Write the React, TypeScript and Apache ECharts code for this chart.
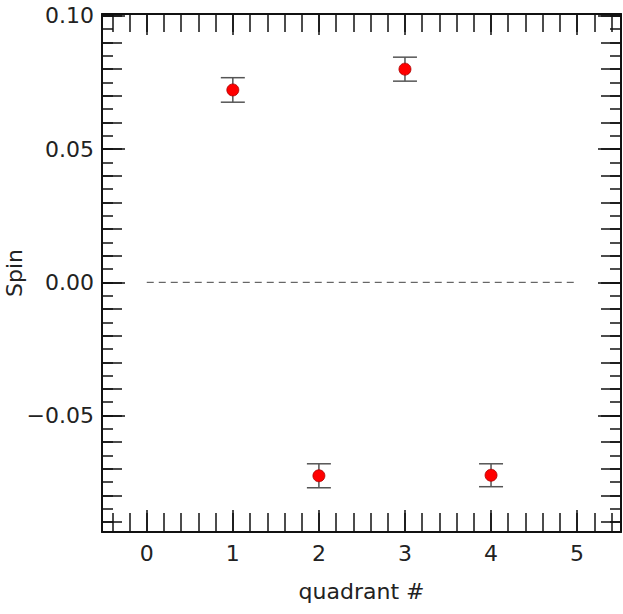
import React, { useEffect, useRef } from "react";
import * as echarts from "echarts";

// ---- data ----
const quadrants = [1, 2, 3, 4];
const spinValues = [0.0722, -0.0726, 0.08, -0.0724];
const spinErrors = [0.0046, 0.0045, 0.0045, 0.0043];
const zeroLineX = [0, 5];
const zeroLineY = [0, 0];

// axis extents and tick steps
const xRange = [-0.52, 5.51];
const yRange = [-0.0937, 0.1007];
const xMajorStep = 1;
const xMinorStep = 0.2;
const yLabelStep = 0.05;
const yMidStep = 0.01;
const yMinorStep = 0.005;

const FONT = "DejaVu Sans";

const isMultiple = (v: number, step: number) =>
  Math.abs(v / step - Math.round(v / step)) < 1e-6;

const fmtY = (v: number) => {
  if (!isMultiple(v, yLabelStep)) return "";
  const s = Math.abs(v).toFixed(2);
  return v < -1e-9 ? "\u2212" + s : s;
};
const fmtX = (v: number) => (isMultiple(v, xMajorStep) ? String(Math.round(v)) : "");

export default function App() {
  const ref = useRef<HTMLDivElement>(null);
  useEffect(() => {
    if (!ref.current) return;
    const chart = echarts.init(ref.current, null, { renderer: "svg" });

    const xSpan = xRange[1] - xRange[0];
    const ySpan = yRange[1] - yRange[0];

    const xAxisBase = (step: number, pos: "top" | "bottom", len: number, main: boolean, line: boolean) => ({
      type: "value",
      position: pos,
      min: xRange[0],
      max: xRange[1],
      splitNumber: Math.round(xSpan / step),
      minInterval: step,
      maxInterval: step,
      splitLine: { show: false },
      axisLine: { show: line, onZero: false, lineStyle: { color: "#111", width: 2 } },
      axisTick: { show: true, inside: true, length: len, lineStyle: { color: "#111", width: 1.5 } },
      axisLabel: main
        ? { show: true, formatter: fmtX, fontFamily: FONT, fontSize: 22, color: "#222", margin: 10 }
        : { show: false },
      name: main ? "quadrant #" : "",
      nameLocation: "middle",
      nameGap: 48,
      nameMoveOverlap: false,
      nameTextStyle: { fontFamily: FONT, fontSize: 22, color: "#222" },
    });

    const yAxisBase = (step: number, pos: "left" | "right", len: number, main: boolean, line: boolean) => ({
      type: "value",
      position: pos,
      min: yRange[0],
      max: yRange[1],
      splitNumber: Math.round(ySpan / step),
      minInterval: step,
      maxInterval: step,
      splitLine: { show: false },
      axisLine: { show: line, onZero: false, lineStyle: { color: "#111", width: 2 } },
      axisTick: { show: true, inside: true, length: len, lineStyle: { color: "#111", width: 1.5 } },
      axisLabel: main
        ? { show: true, formatter: fmtY, fontFamily: FONT, fontSize: 22, color: "#222", margin: 8 }
        : { show: false },
      name: main ? "Spin" : "",
      nameLocation: "middle",
      nameGap: 77,
      nameMoveOverlap: false,
      nameTextStyle: { fontFamily: FONT, fontSize: 22, color: "#222" },
    });

    const points = quadrants.map((q, i) => [q, spinValues[i], spinErrors[i]]);

    chart.setOption({
      animation: false,
      backgroundColor: "#fff",
      grid: { left: 102, right: 2, top: 14, bottom: 82, containLabel: false, outerBoundsMode: "none" },
      xAxis: [
        xAxisBase(xMajorStep, "bottom", 22, true, true),
        xAxisBase(xMinorStep, "bottom", 19, false, false),
        xAxisBase(xMajorStep, "top", 21, false, true),
        xAxisBase(xMinorStep, "top", 18, false, false),
      ],
      yAxis: [
        yAxisBase(yLabelStep, "left", 23, true, true),
        yAxisBase(yMidStep, "left", 20, false, false),
        yAxisBase(yMinorStep, "left", 11, false, false),
        yAxisBase(yLabelStep, "right", 23, false, true),
        yAxisBase(yMidStep, "right", 20, false, false),
        yAxisBase(yMinorStep, "right", 11, false, false),
      ],
      series: [
        {
          type: "line",
          xAxisIndex: 0,
          yAxisIndex: 0,
          data: zeroLineX.map((x, i) => [x, zeroLineY[i]]),
          symbol: "none",
          lineStyle: { color: "#444", width: 1, type: [7, 5] },
          silent: true,
          z: 1,
        },
        {
          type: "custom",
          xAxisIndex: 0,
          yAxisIndex: 0,
          data: points,
          z: 2,
          renderItem: (params: any, api: any) => {
            const x = api.value(0);
            const y = api.value(1);
            const e = api.value(2);
            const top = api.coord([x, y + e]);
            const bot = api.coord([x, y - e]);
            const hw = 12;
            const style = { stroke: "#555", lineWidth: 1.5, fill: "none" };
            return {
              type: "group",
              children: [
                { type: "line", shape: { x1: top[0], y1: top[1], x2: bot[0], y2: bot[1] }, style },
                { type: "line", shape: { x1: top[0] - hw, y1: top[1], x2: top[0] + hw, y2: top[1] }, style },
                { type: "line", shape: { x1: bot[0] - hw, y1: bot[1], x2: bot[0] + hw, y2: bot[1] }, style },
              ],
            };
          },
        },
        {
          type: "scatter",
          xAxisIndex: 0,
          yAxisIndex: 0,
          data: points.map((p) => [p[0], p[1]]),
          symbol: "circle",
          symbolSize: 12,
          itemStyle: { color: "#ff0000", borderColor: "#aa0000", borderWidth: 0.8, opacity: 1 },
          z: 3,
        },
      ],
    });
    return () => chart.dispose();
  }, []);

  return (
    <div
      ref={ref}
      style={{ position: "fixed", left: 0, top: 0, width: 623, height: 614, background: "#fff" }}
    />
  );
}
